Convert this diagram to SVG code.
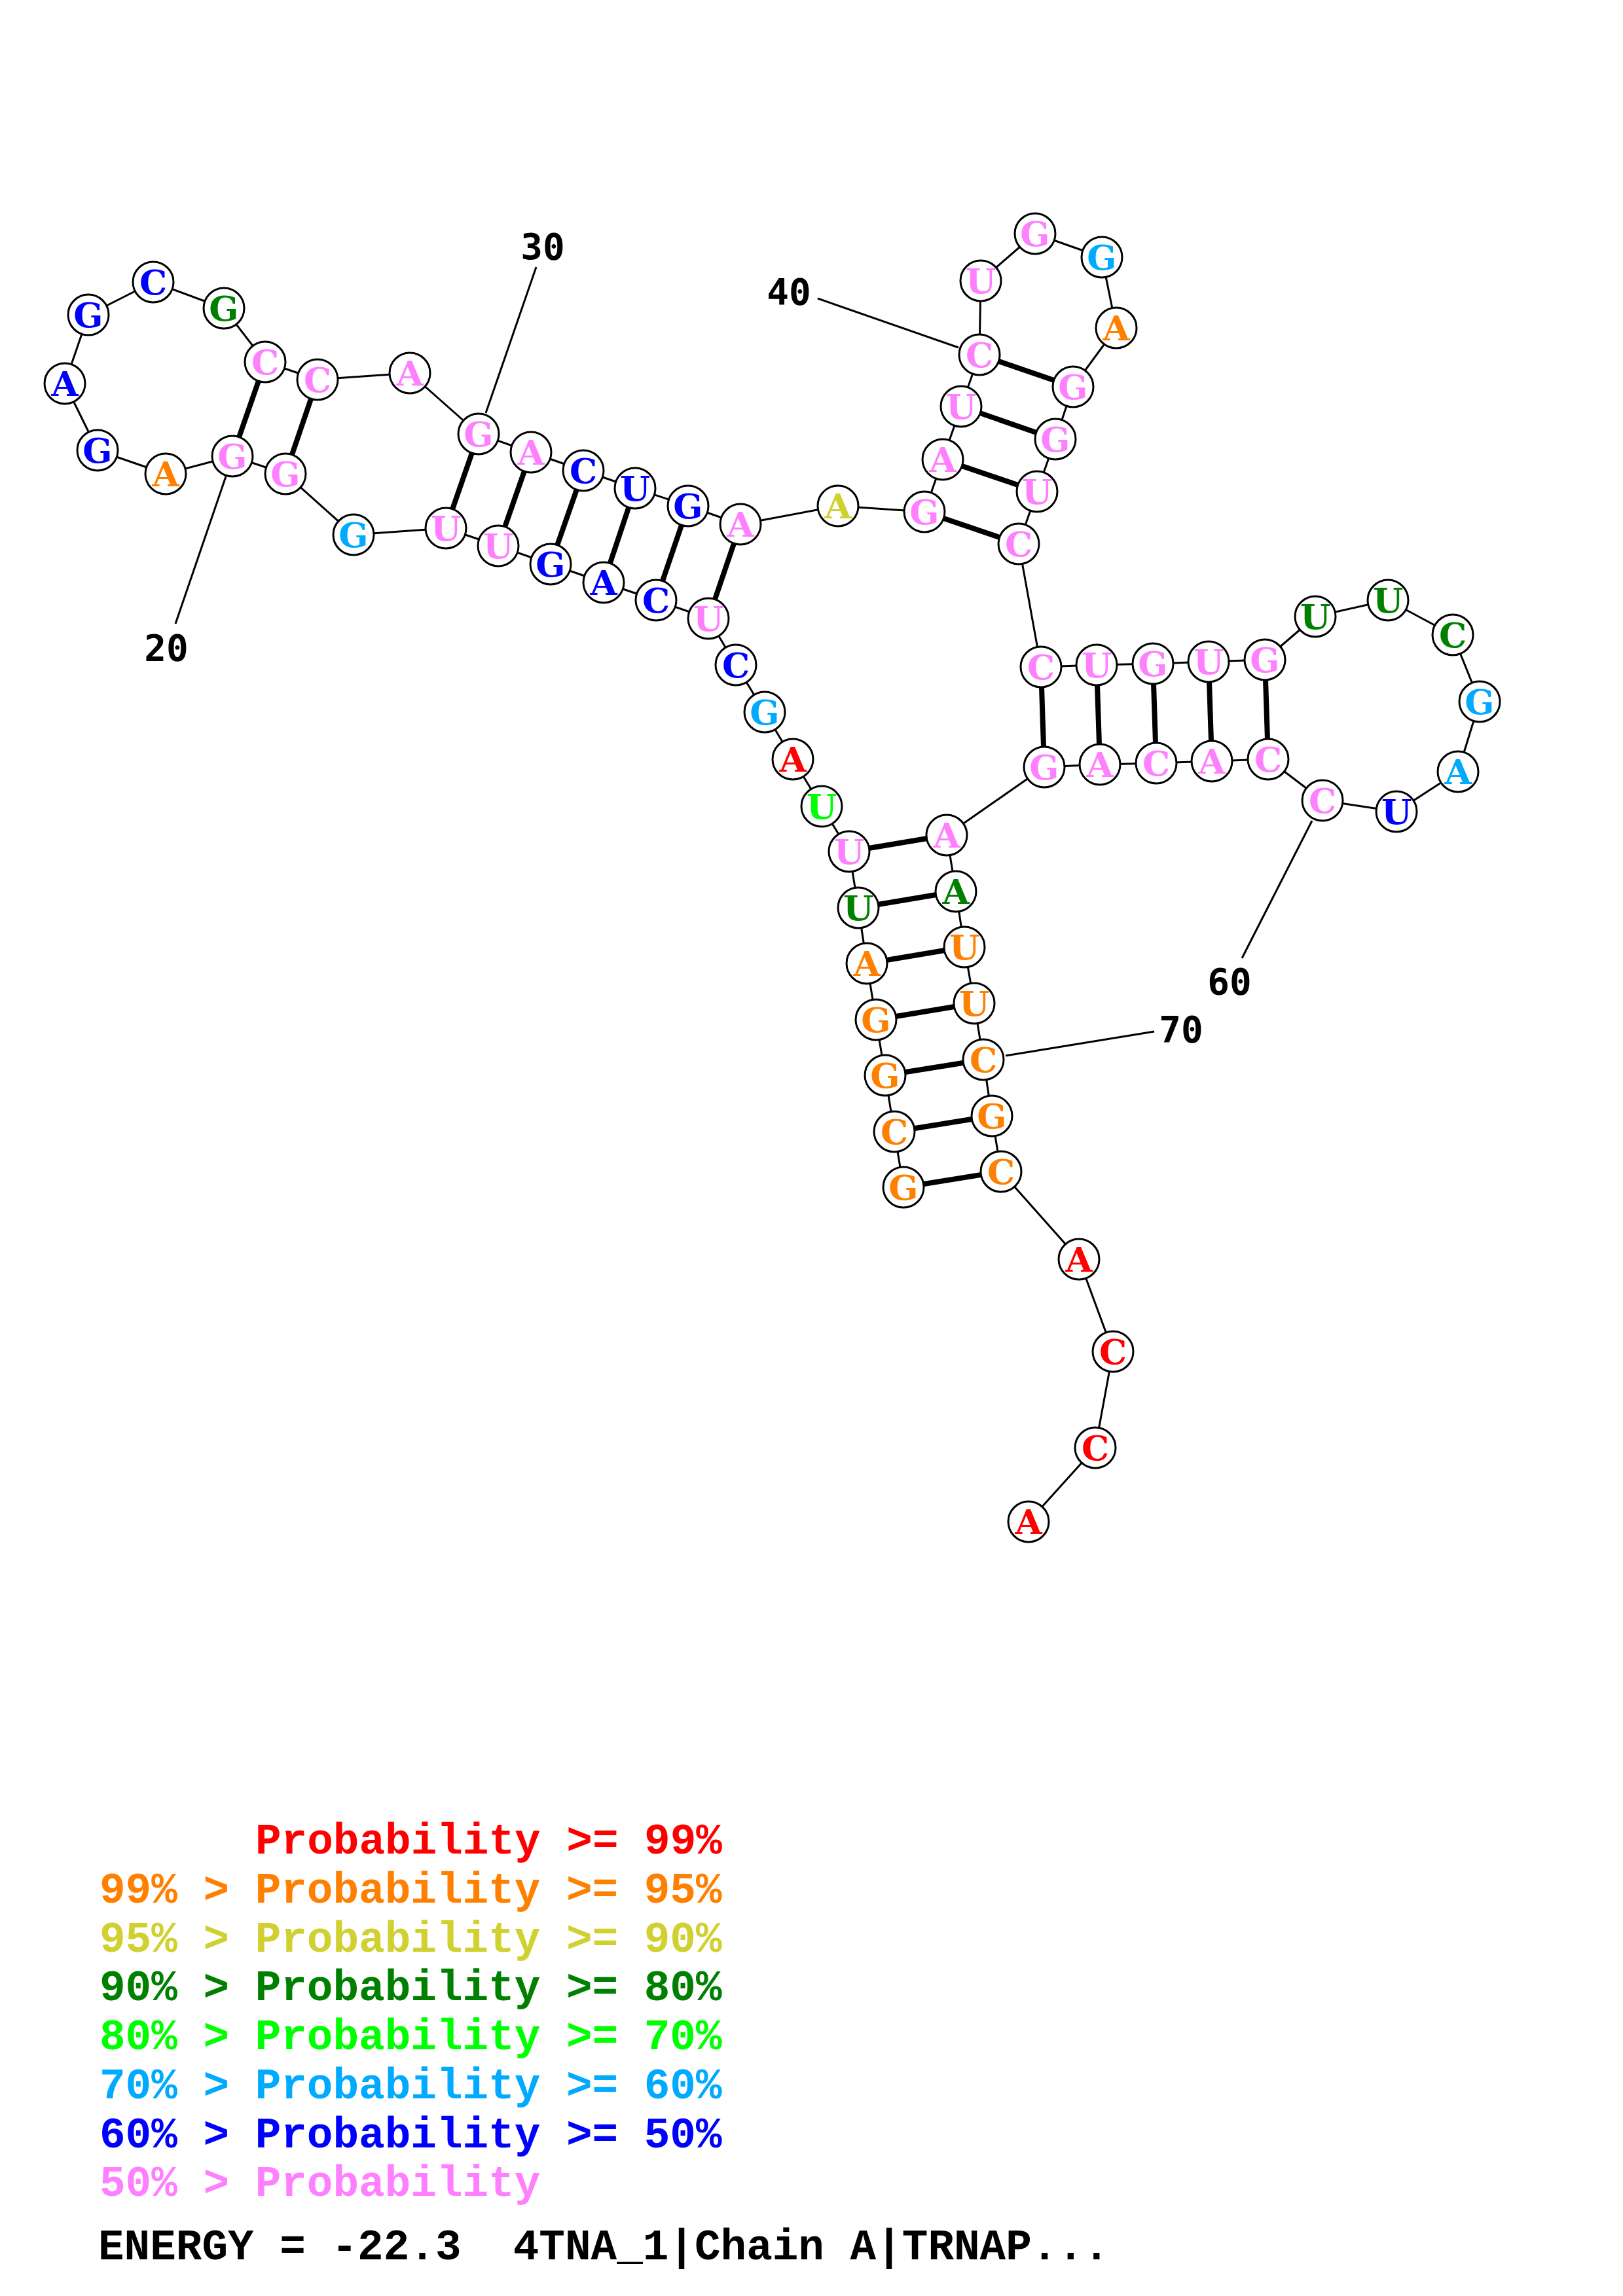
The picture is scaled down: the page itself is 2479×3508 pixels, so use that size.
<svg xmlns="http://www.w3.org/2000/svg" width="2479" height="3508" viewBox="0 0 2479 3508">
<style>
.bb{fill:none;stroke:#000;stroke-width:3;stroke-linejoin:round}
.bp{stroke:#000;stroke-width:8}
.ln{stroke:#000;stroke-width:3}
circle{fill:#fff;stroke:#000;stroke-width:3}
.nt{font-family:"DejaVu Serif","Liberation Serif",serif;font-weight:bold;font-size:53px;text-anchor:middle}
.num{font-family:"DejaVu Sans Mono",monospace;font-weight:bold;font-size:56px;text-anchor:middle;fill:#000}
.lg{font-family:"Liberation Mono","Courier New",monospace;font-weight:bold;font-size:66px;white-space:pre}
.r{fill:#FF0000}.o{fill:#FF8000}.y{fill:#D0D030}.dg{fill:#008000}.lg1{fill:#00FF00}.lb{fill:#00AAFF}.b{fill:#0000FF}.p{fill:#FF80FF}.k{fill:#000}
</style>
<rect width="2479" height="3508" fill="#fff"/>
<g id="connectors">
<polyline class="bb" points="1380,1814 1366,1729 1352,1643 1338,1558 1324,1472 1311,1387 1297,1301 1255,1232 1211,1160 1168,1088 1124,1016 1082,945 1002,917 922,890 841,862 761,834 681,807 540,817 436,724 355,697 253,724 149,688 99,586 135,481 234,431 342,471 405,553 485,580 626,570 731,663 811,691 891,719 970,746 1051,773 1131,801 1280,773 1412,782 1440,702 1468,621 1496,542 1498,429 1581,357 1683,393 1705,501 1639,591 1612,671 1584,751 1556,831 1590,1019 1675,1016 1761,1014 1846,1011 1932,1008 2009,942 2120,917 2219,970 2260,1072 2227,1179 2133,1240 2020,1223 1937,1160 1851,1163 1766,1166 1680,1168 1595,1172 1446,1276 1460,1362 1473,1447 1488,1533 1502,1619 1515,1705 1529,1790 1648,1924 1700,2065 1673,2212 1571,2325"/>
<line class="bp" x1="1380" y1="1814" x2="1529" y2="1790"/>
<line class="bp" x1="1366" y1="1729" x2="1515" y2="1705"/>
<line class="bp" x1="1352" y1="1643" x2="1502" y2="1619"/>
<line class="bp" x1="1338" y1="1558" x2="1488" y2="1533"/>
<line class="bp" x1="1324" y1="1472" x2="1473" y2="1447"/>
<line class="bp" x1="1311" y1="1387" x2="1460" y2="1362"/>
<line class="bp" x1="1297" y1="1301" x2="1446" y2="1276"/>
<line class="bp" x1="436" y1="724" x2="485" y2="580"/>
<line class="bp" x1="355" y1="697" x2="405" y2="553"/>
<line class="bp" x1="681" y1="807" x2="731" y2="663"/>
<line class="bp" x1="761" y1="834" x2="811" y2="691"/>
<line class="bp" x1="841" y1="862" x2="891" y2="719"/>
<line class="bp" x1="922" y1="890" x2="970" y2="746"/>
<line class="bp" x1="1002" y1="917" x2="1051" y2="773"/>
<line class="bp" x1="1082" y1="945" x2="1131" y2="801"/>
<line class="bp" x1="1412" y1="782" x2="1556" y2="831"/>
<line class="bp" x1="1440" y1="702" x2="1584" y2="751"/>
<line class="bp" x1="1468" y1="621" x2="1612" y2="671"/>
<line class="bp" x1="1496" y1="542" x2="1639" y2="591"/>
<line class="bp" x1="1590" y1="1019" x2="1595" y2="1172"/>
<line class="bp" x1="1675" y1="1016" x2="1680" y2="1168"/>
<line class="bp" x1="1761" y1="1014" x2="1766" y2="1166"/>
<line class="bp" x1="1846" y1="1011" x2="1851" y2="1163"/>
<line class="bp" x1="1932" y1="1008" x2="1937" y2="1160"/>
<line class="ln" x1="268" y1="953" x2="345" y2="728"/>
<line class="ln" x1="819" y1="408" x2="742" y2="631"/>
<line class="ln" x1="1249" y1="456" x2="1464" y2="531"/>
<line class="ln" x1="1897" y1="1464" x2="2004" y2="1254"/>
<line class="ln" x1="1763" y1="1576" x2="1536" y2="1613"/>
</g>
<g id="n1"><circle cx="1380" cy="1814" r="31"/><text class="nt o" x="1380" y="1833">G</text></g>
<g id="n2"><circle cx="1366" cy="1729" r="31"/><text class="nt o" x="1366" y="1748">C</text></g>
<g id="n3"><circle cx="1352" cy="1643" r="31"/><text class="nt o" x="1352" y="1662">G</text></g>
<g id="n4"><circle cx="1338" cy="1558" r="31"/><text class="nt o" x="1338" y="1577">G</text></g>
<g id="n5"><circle cx="1324" cy="1472" r="31"/><text class="nt o" x="1324" y="1491">A</text></g>
<g id="n6"><circle cx="1311" cy="1387" r="31"/><text class="nt dg" x="1311" y="1406">U</text></g>
<g id="n7"><circle cx="1297" cy="1301" r="31"/><text class="nt p" x="1297" y="1320">U</text></g>
<g id="n8"><circle cx="1255" cy="1232" r="31"/><text class="nt lg1" x="1255" y="1251">U</text></g>
<g id="n9"><circle cx="1211" cy="1160" r="31"/><text class="nt r" x="1211" y="1179">A</text></g>
<g id="n10"><circle cx="1168" cy="1088" r="31"/><text class="nt lb" x="1168" y="1107">G</text></g>
<g id="n11"><circle cx="1124" cy="1016" r="31"/><text class="nt b" x="1124" y="1035">C</text></g>
<g id="n12"><circle cx="1082" cy="945" r="31"/><text class="nt p" x="1082" y="964">U</text></g>
<g id="n13"><circle cx="1002" cy="917" r="31"/><text class="nt b" x="1002" y="936">C</text></g>
<g id="n14"><circle cx="922" cy="890" r="31"/><text class="nt b" x="922" y="909">A</text></g>
<g id="n15"><circle cx="841" cy="862" r="31"/><text class="nt b" x="841" y="881">G</text></g>
<g id="n16"><circle cx="761" cy="834" r="31"/><text class="nt p" x="761" y="853">U</text></g>
<g id="n17"><circle cx="681" cy="807" r="31"/><text class="nt p" x="681" y="826">U</text></g>
<g id="n18"><circle cx="540" cy="817" r="31"/><text class="nt lb" x="540" y="836">G</text></g>
<g id="n19"><circle cx="436" cy="724" r="31"/><text class="nt p" x="436" y="743">G</text></g>
<g id="n20"><circle cx="355" cy="697" r="31"/><text class="nt p" x="355" y="716">G</text></g>
<g id="n21"><circle cx="253" cy="724" r="31"/><text class="nt o" x="253" y="743">A</text></g>
<g id="n22"><circle cx="149" cy="688" r="31"/><text class="nt b" x="149" y="707">G</text></g>
<g id="n23"><circle cx="99" cy="586" r="31"/><text class="nt b" x="99" y="605">A</text></g>
<g id="n24"><circle cx="135" cy="481" r="31"/><text class="nt b" x="135" y="500">G</text></g>
<g id="n25"><circle cx="234" cy="431" r="31"/><text class="nt b" x="234" y="450">C</text></g>
<g id="n26"><circle cx="342" cy="471" r="31"/><text class="nt dg" x="342" y="490">G</text></g>
<g id="n27"><circle cx="405" cy="553" r="31"/><text class="nt p" x="405" y="572">C</text></g>
<g id="n28"><circle cx="485" cy="580" r="31"/><text class="nt p" x="485" y="599">C</text></g>
<g id="n29"><circle cx="626" cy="570" r="31"/><text class="nt p" x="626" y="589">A</text></g>
<g id="n30"><circle cx="731" cy="663" r="31"/><text class="nt p" x="731" y="682">G</text></g>
<g id="n31"><circle cx="811" cy="691" r="31"/><text class="nt p" x="811" y="710">A</text></g>
<g id="n32"><circle cx="891" cy="719" r="31"/><text class="nt b" x="891" y="738">C</text></g>
<g id="n33"><circle cx="970" cy="746" r="31"/><text class="nt b" x="970" y="765">U</text></g>
<g id="n34"><circle cx="1051" cy="773" r="31"/><text class="nt b" x="1051" y="792">G</text></g>
<g id="n35"><circle cx="1131" cy="801" r="31"/><text class="nt p" x="1131" y="820">A</text></g>
<g id="n36"><circle cx="1280" cy="773" r="31"/><text class="nt y" x="1280" y="792">A</text></g>
<g id="n37"><circle cx="1412" cy="782" r="31"/><text class="nt p" x="1412" y="801">G</text></g>
<g id="n38"><circle cx="1440" cy="702" r="31"/><text class="nt p" x="1440" y="721">A</text></g>
<g id="n39"><circle cx="1468" cy="621" r="31"/><text class="nt p" x="1468" y="640">U</text></g>
<g id="n40"><circle cx="1496" cy="542" r="31"/><text class="nt p" x="1496" y="561">C</text></g>
<g id="n41"><circle cx="1498" cy="429" r="31"/><text class="nt p" x="1498" y="448">U</text></g>
<g id="n42"><circle cx="1581" cy="357" r="31"/><text class="nt p" x="1581" y="376">G</text></g>
<g id="n43"><circle cx="1683" cy="393" r="31"/><text class="nt lb" x="1683" y="412">G</text></g>
<g id="n44"><circle cx="1705" cy="501" r="31"/><text class="nt o" x="1705" y="520">A</text></g>
<g id="n45"><circle cx="1639" cy="591" r="31"/><text class="nt p" x="1639" y="610">G</text></g>
<g id="n46"><circle cx="1612" cy="671" r="31"/><text class="nt p" x="1612" y="690">G</text></g>
<g id="n47"><circle cx="1584" cy="751" r="31"/><text class="nt p" x="1584" y="770">U</text></g>
<g id="n48"><circle cx="1556" cy="831" r="31"/><text class="nt p" x="1556" y="850">C</text></g>
<g id="n49"><circle cx="1590" cy="1019" r="31"/><text class="nt p" x="1590" y="1038">C</text></g>
<g id="n50"><circle cx="1675" cy="1016" r="31"/><text class="nt p" x="1675" y="1035">U</text></g>
<g id="n51"><circle cx="1761" cy="1014" r="31"/><text class="nt p" x="1761" y="1033">G</text></g>
<g id="n52"><circle cx="1846" cy="1011" r="31"/><text class="nt p" x="1846" y="1030">U</text></g>
<g id="n53"><circle cx="1932" cy="1008" r="31"/><text class="nt p" x="1932" y="1027">G</text></g>
<g id="n54"><circle cx="2009" cy="942" r="31"/><text class="nt dg" x="2009" y="961">U</text></g>
<g id="n55"><circle cx="2120" cy="917" r="31"/><text class="nt dg" x="2120" y="936">U</text></g>
<g id="n56"><circle cx="2219" cy="970" r="31"/><text class="nt dg" x="2219" y="989">C</text></g>
<g id="n57"><circle cx="2260" cy="1072" r="31"/><text class="nt lb" x="2260" y="1091">G</text></g>
<g id="n58"><circle cx="2227" cy="1179" r="31"/><text class="nt lb" x="2227" y="1198">A</text></g>
<g id="n59"><circle cx="2133" cy="1240" r="31"/><text class="nt b" x="2133" y="1259">U</text></g>
<g id="n60"><circle cx="2020" cy="1223" r="31"/><text class="nt p" x="2020" y="1242">C</text></g>
<g id="n61"><circle cx="1937" cy="1160" r="31"/><text class="nt p" x="1937" y="1179">C</text></g>
<g id="n62"><circle cx="1851" cy="1163" r="31"/><text class="nt p" x="1851" y="1182">A</text></g>
<g id="n63"><circle cx="1766" cy="1166" r="31"/><text class="nt p" x="1766" y="1185">C</text></g>
<g id="n64"><circle cx="1680" cy="1168" r="31"/><text class="nt p" x="1680" y="1187">A</text></g>
<g id="n65"><circle cx="1595" cy="1172" r="31"/><text class="nt p" x="1595" y="1191">G</text></g>
<g id="n66"><circle cx="1446" cy="1276" r="31"/><text class="nt p" x="1446" y="1295">A</text></g>
<g id="n67"><circle cx="1460" cy="1362" r="31"/><text class="nt dg" x="1460" y="1381">A</text></g>
<g id="n68"><circle cx="1473" cy="1447" r="31"/><text class="nt o" x="1473" y="1466">U</text></g>
<g id="n69"><circle cx="1488" cy="1533" r="31"/><text class="nt o" x="1488" y="1552">U</text></g>
<g id="n70"><circle cx="1502" cy="1619" r="31"/><text class="nt o" x="1502" y="1638">C</text></g>
<g id="n71"><circle cx="1515" cy="1705" r="31"/><text class="nt o" x="1515" y="1724">G</text></g>
<g id="n72"><circle cx="1529" cy="1790" r="31"/><text class="nt o" x="1529" y="1809">C</text></g>
<g id="n73"><circle cx="1648" cy="1924" r="31"/><text class="nt r" x="1648" y="1943">A</text></g>
<g id="n74"><circle cx="1700" cy="2065" r="31"/><text class="nt r" x="1700" y="2084">C</text></g>
<g id="n75"><circle cx="1673" cy="2212" r="31"/><text class="nt r" x="1673" y="2231">C</text></g>
<g id="n76"><circle cx="1571" cy="2325" r="31"/><text class="nt r" x="1571" y="2344">A</text></g>
<g id="labels">
<text class="num" x="254" y="1009">20</text>
<text class="num" x="829" y="396">30</text>
<text class="num" x="1205" y="465">40</text>
<text class="num" x="1878" y="1519">60</text>
<text class="num" x="1804" y="1592">70</text>
</g>
<g id="legend">
<text class="lg r" x="390" y="2832">Probability &gt;= 99%</text>
<text class="lg o" x="152" y="2907">99% &gt; Probability &gt;= 95%</text>
<text class="lg y" x="152" y="2982">95% &gt; Probability &gt;= 90%</text>
<text class="lg dg" x="152" y="3056">90% &gt; Probability &gt;= 80%</text>
<text class="lg lg1" x="152" y="3131">80% &gt; Probability &gt;= 70%</text>
<text class="lg lb" x="152" y="3206">70% &gt; Probability &gt;= 60%</text>
<text class="lg b" x="152" y="3281">60% &gt; Probability &gt;= 50%</text>
<text class="lg p" x="152" y="3355">50% &gt; Probability</text>
<text class="lg k" x="150" y="3452">ENERGY = -22.3  4TNA_1|Chain A|TRNAP...</text>
</g>
</svg>
